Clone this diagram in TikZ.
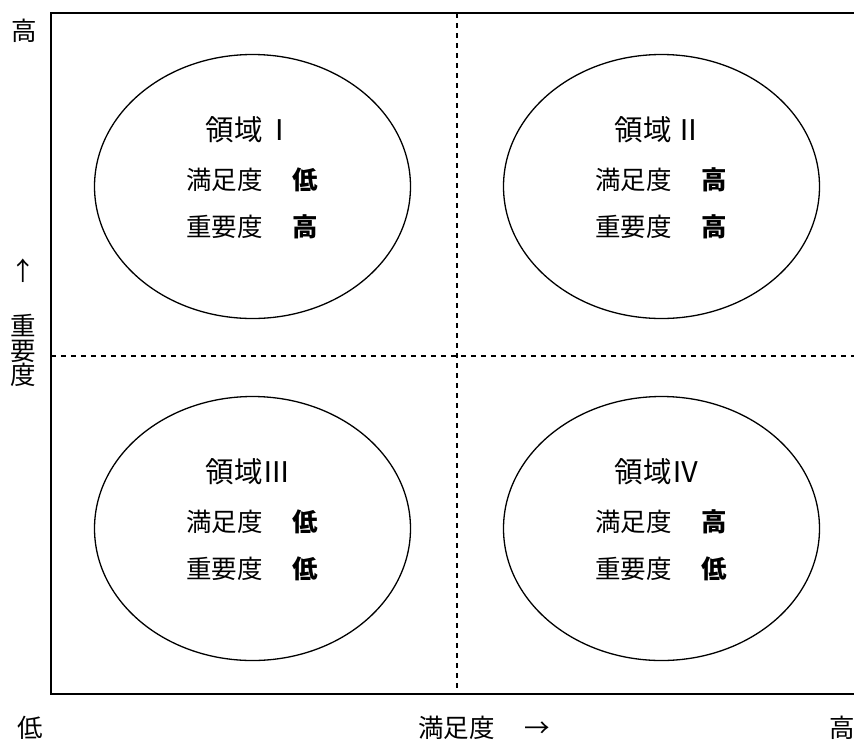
\documentclass[tikz,border=0pt]{standalone}
\usepackage{fontspec}
\setmainfont{Noto Sans CJK JP}
\usetikzlibrary{shapes.geometric,calc}
\begin{document}
\begin{tikzpicture}[x=1pt,y=-1pt,
  axis/.style={line width=2.2pt, line join=miter},
  divider/.style={line width=1.8pt, dash pattern=on 5pt off 5pt},
  quad/.style={draw, ellipse, line width=1.3pt, minimum width=316pt, minimum height=264pt, inner sep=0pt},
  txt/.style={inner sep=0pt, text height=22.4pt, text depth=3.1pt, font=\fontsize{25.5}{26}\selectfont},
  ttl/.style={inner sep=0pt, text height=25.1pt, text depth=3.4pt, font=\fontsize{28.5}{30}\selectfont, anchor=west},
  lbl/.style={txt, anchor=west},
  bld/.style={inner sep=0pt, text height=22.4pt, text depth=3.1pt, font=\fontsize{25.5}{26}\selectfont\bfseries},
]
\useasboundingbox (0,0) rectangle (854,740);
% frame
\coordinate (tl) at (51,13);
\coordinate (tr) at (854,13);
\coordinate (bl) at (51,694);
\coordinate (br) at (854,694);
\draw[axis] (tr) -- (tl) -- (bl) -- (br);
% dividers
\coordinate (vt) at (457,13);
\coordinate (vb) at (457,694);
\coordinate (hl) at (51,356);
\coordinate (hr) at (854,356);
\draw[divider] (vt) -- (vb);
\draw[divider] (hl) -- (hr);
% quadrants
\node[quad] (q1) at (252.5,186.5) {};
\node[quad] (q2) at (661.5,186.5) {};
\node[quad] (q3) at (252.5,528.5) {};
\node[quad] (q4) at (661.5,528.5) {};
% region I
\node[ttl] (t1) at ($(q1)+(-47,-57)$) {領域\kern3pt Ⅰ};
\node[lbl] (s1) at ($(q1)+(-66.5,-7)$) {満足度};
\node[bld] (sv1) at ($(q1)+(53,-7)$) {低};
\node[lbl] (i1) at ($(q1)+(-66.5,40.5)$) {重要度};
\node[bld] (iv1) at ($(q1)+(53,40.5)$) {高};
% region II
\node[ttl] (t2) at ($(q2)+(-47,-57)$) {領域\kern3pt Ⅱ};
\node[lbl] (s2) at ($(q2)+(-66.5,-7)$) {満足度};
\node[bld] (sv2) at ($(q2)+(53,-7)$) {高};
\node[lbl] (i2) at ($(q2)+(-66.5,40.5)$) {重要度};
\node[bld] (iv2) at ($(q2)+(53,40.5)$) {高};
% region III
\node[ttl] (t3) at ($(q3)+(-47,-57)$) {領域Ⅲ};
\node[lbl] (s3) at ($(q3)+(-66.5,-7)$) {満足度};
\node[bld] (sv3) at ($(q3)+(53,-7)$) {低};
\node[lbl] (i3) at ($(q3)+(-66.5,40.5)$) {重要度};
\node[bld] (iv3) at ($(q3)+(53,40.5)$) {低};
% region IV
\node[ttl] (t4) at ($(q4)+(-47,-57)$) {領域Ⅳ};
\node[lbl] (s4) at ($(q4)+(-66.5,-7)$) {満足度};
\node[bld] (sv4) at ($(q4)+(53,-7)$) {高};
\node[lbl] (i4) at ($(q4)+(-66.5,40.5)$) {重要度};
\node[bld] (iv4) at ($(q4)+(53,40.5)$) {低};
% axis labels
\node[txt] (yhi) at (24,31) {高};
\node[txt] (yarr) at (23.5,271) {↑};
\node[inner sep=0pt, align=center, font=\fontsize{25.5}{24.7}\selectfont] (ylab) at (23.5,350.5) {重\\要\\度};
\node[txt] (xlo) at (30.5,727.5) {低};
\node[lbl] (xlab) at (418,727.5) {満足度};
\node[txt] (xarr) at (537.5,727.5) {→};
\node[txt] (xhi) at (842.5,727.5) {高};
\end{tikzpicture}
\end{document}
